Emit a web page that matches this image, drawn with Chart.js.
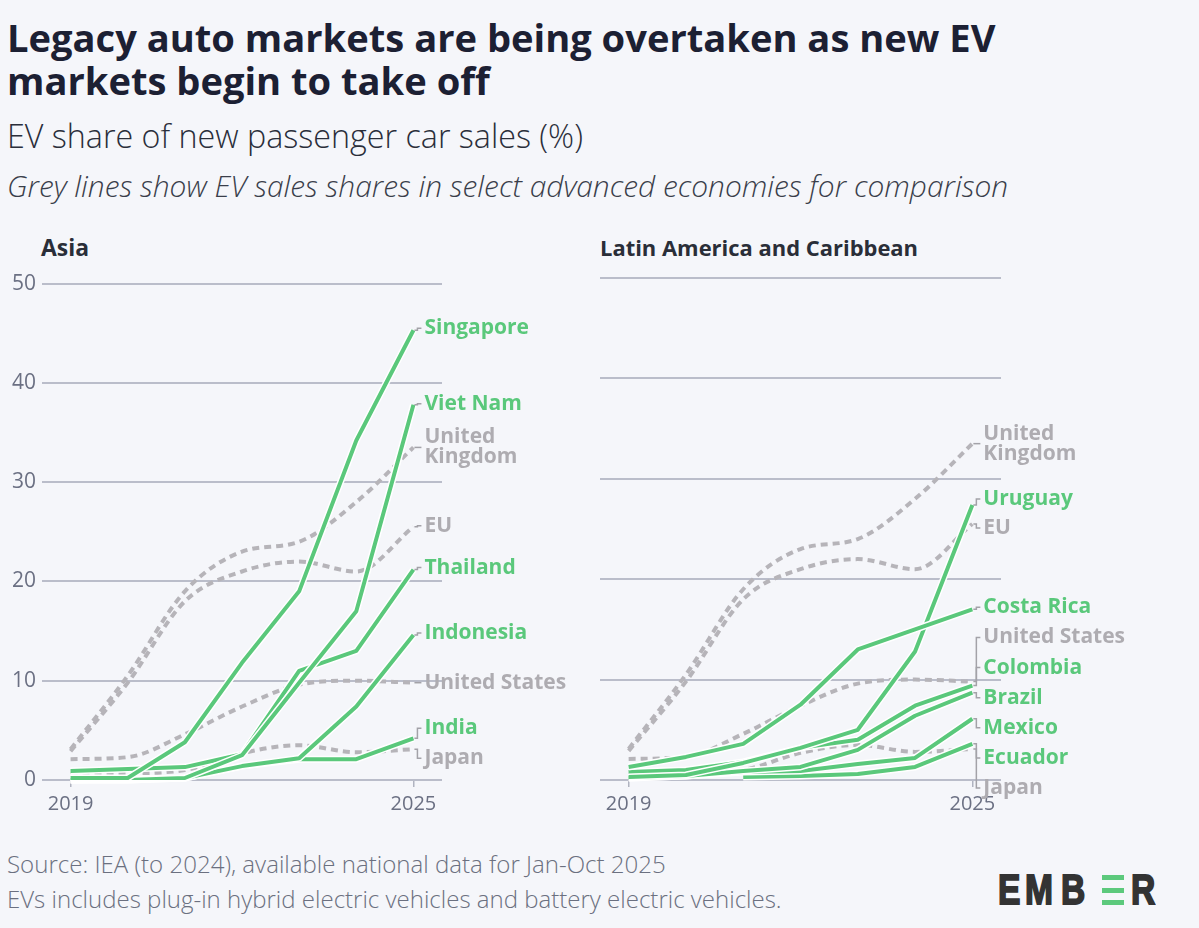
<!DOCTYPE html>
<html><head><meta charset="utf-8">
<script src="https://cdn.jsdelivr.net/npm/chart.js@4.4.1/dist/chart.umd.min.js"></script>
<style>
html,body{margin:0;padding:0;background:#f5f6fa;}
body{width:1199px;height:928px;position:relative;overflow:hidden;font-family:"Open Sans",sans-serif;}
.t{position:absolute;white-space:nowrap;left:7px;display:inline-block;}
#title1,#title2{font-weight:700;color:#1c2033;font-size:34px;line-height:40px;}
#title1{top:17px;} #title2{top:60px;}
#sub{top:118px;font-weight:300;color:#2a2e3a;font-size:26px;line-height:36px;}
#note{top:168px;font-weight:300;font-style:italic;color:#3a3e4a;font-size:23px;line-height:36px;}
.panel{position:absolute;top:236px;font-weight:700;font-size:18px;color:#2a2e38;line-height:24px;}
#foot1{top:851px;font-weight:300;color:#6b7080;font-size:18px;line-height:26px;}
#foot2{top:886px;font-weight:300;color:#6b7080;font-size:18px;line-height:26px;}
.cwrap{position:absolute;top:265px;height:565px;}
#logo span{position:absolute;font-family:"Liberation Sans",Arial,sans-serif;font-weight:bold;font-size:42px;line-height:42px;color:#333333;top:869px;transform:scaleX(0.8);transform-origin:0 0;-webkit-text-stroke:1.8px #333333;}
#logo i{position:absolute;left:1102px;width:22px;height:5px;background:#5cc97c;}
</style></head>
<body>
<div class="t" id="title1">Legacy auto markets are being overtaken as new EV</div>
<div class="t" id="title2">markets begin to take off</div>
<div class="t" id="sub">EV share of new passenger car sales (%)</div>
<div class="t" id="note">Grey lines show EV sales shares in select advanced economies for comparison</div>
<div class="panel" style="left:41px" id="p1">Asia</div>
<div class="panel" style="left:600px" id="p2">Latin America and Caribbean</div>
<div class="cwrap" style="left:0;width:590px"><canvas id="c1"></canvas></div>
<div class="cwrap" style="left:590px;width:609px"><canvas id="c2"></canvas></div>
<div class="t" id="foot1">Source: IEA (to 2024), available national data for Jan-Oct 2025</div>
<div class="t" id="foot2">EVs includes plug-in hybrid electric vehicles and battery electric vehicles.</div>
<div id="logo">
<span style="left:998px">E</span><span style="left:1025px">M</span><span style="left:1061px">B</span>
<i style="top:875px"></i><i style="top:888px"></i><i style="top:900px"></i>
<span style="left:1131px">R</span>
</div>
<script>
// ---------- data ----------
const years = [2019, 2020, 2021, 2022, 2023, 2024, 2025];
const xTickYears = [2019, 2025];
const yTicks = [0, 10, 20, 30, 40, 50];

// Asia
const singapore = [0.2, 0.2, 3.8, 11.8, 19.0, 34.2, 45.3];
const vietNam   = [0.0, 0.0, 0.2, 2.5, 9.8, 17.0, 37.8];
const thailand  = [0.9, 1.1, 1.3, 2.6, 11.0, 13.0, 21.2];
const indonesia = [0.0, 0.0, 0.2, 1.4, 2.2, 7.4, 14.6];
const india     = [0.0, 0.1, 0.2, 1.4, 2.1, 2.1, 4.2];

// Latin America and Caribbean
const costaRica = [1.3, 2.3, 3.6, 7.5, 13.0, 15.0, 17.0];
const uruguay   = [0.3, 0.5, 1.7, 3.2, 5.0, 12.8, 27.4];
const colombia  = [0.8, 1.0, 1.8, 3.2, 4.0, 7.4, 9.4];
const brazil    = [0.2, 0.4, 0.9, 1.3, 3.0, 6.4, 8.7];
const mexico    = [0.2, 0.4, 0.8, 0.9, 1.6, 2.2, 6.1];
const ecuador   = [null, null, 0.3, 0.4, 0.6, 1.3, 3.6];

// Advanced economies (grey comparison lines)
const unitedKingdom = [3.1, 10.5, 19.0, 23.0, 24.0, 28.0, 33.5];
const eu            = [2.9, 9.8, 18.0, 21.0, 22.0, 21.0, 25.5];
const unitedStates  = [2.1, 2.3, 4.6, 7.4, 9.6, 10.0, 9.8];
const japan         = [0.8, 0.7, 1.0, 2.7, 3.5, 2.8, 3.1];

const asiaSeries = [['Singapore', singapore], ['Viet Nam', vietNam], ['Thailand', thailand], ['Indonesia', indonesia], ['India', india]];
const latamSeries = [['Costa Rica', costaRica], ['Uruguay', uruguay], ['Colombia', colombia], ['Brazil', brazil], ['Mexico', mexico], ['Ecuador', ecuador]];
const greySeries = [['United Kingdom', unitedKingdom], ['EU', eu], ['United States', unitedStates], ['Japan', japan]];

// ---------- layout of end labels (value-space positions, layout only) ----------
const asiaLabelAt = {'Singapore':45.5,'Viet Nam':37.9,'United Kingdom':33.5,'EU':25.6,'Thailand':21.4,'Indonesia':14.8,'United States':9.8,'India':5.2,'Japan':2.2};
const latamLabelAt = {'United Kingdom':33.5,'Uruguay':28.0,'EU':25.1,'Costa Rica':17.2,'United States':14.2,'Colombia':11.2,'Brazil':8.2,'Mexico':5.2,'Ecuador':2.2,'Japan':-0.8};

// ---------- text fitting ----------
function fit(id, target){
  const el=document.getElementById(id);
  let fs=parseFloat(getComputedStyle(el).fontSize);
  for(let k=0;k<3;k++){const w=el.getBoundingClientRect().width; fs*=target/w; el.style.fontSize=fs+'px';}
  return fs;
}
const tfs=fit('title1',988); document.getElementById('title2').style.fontSize=tfs+'px';
fit('sub',576); fit('note',1001); fit('p1',48); fit('p2',318); fit('foot1',659); fit('foot2',775);

const GREEN='#5ac87b', GREY='#b6b4b9', GREYTXT='#aeacb1', GRID='#babdca', TICK='#6b7083';

const haloPlugin={
  id:'halo',
  beforeDatasetDraw(chart,args){
    const ds=chart.data.datasets[args.index];
    if(!ds.isGreen) return;
    const ctx=chart.ctx, pts=args.meta.data;
    ctx.save(); ctx.strokeStyle='#ffffff'; ctx.lineWidth=7; ctx.lineJoin='round';
    ctx.beginPath(); let started=false;
    pts.forEach((p,i)=>{ if(ds.data[i].y==null){started=false;return;} if(!started){ctx.moveTo(p.x,p.y);started=true;} else ctx.lineTo(p.x,p.y); });
    ctx.stroke(); ctx.restore();
  }
};
const labelPlugin={
  id:'endLabels',
  afterDatasetsDraw(chart,args,opts){
    const ctx=chart.ctx, xs=chart.scales.x, ys=chart.scales.y;
    const x0=xs.getPixelForValue(years[years.length-1]);
    ctx.save();
    chart.data.datasets.forEach(ds=>{
      const last=ds.data[ds.data.length-1].y;
      const yD=ys.getPixelForValue(last), yL=ys.getPixelForValue(opts.labelAt[ds.label]);
      ctx.strokeStyle='#a3a2a8'; ctx.lineWidth=1.5; ctx.setLineDash([]);
      const cx=x0+4;
      ctx.beginPath(); ctx.moveTo(x0+1,yD); ctx.lineTo(cx,yD); ctx.lineTo(cx,yL); ctx.lineTo(cx+4,yL); ctx.stroke();
      ctx.fillStyle=ds.isGreen?GREEN:GREYTXT;
      ctx.font='700 21px "Open Sans"'; ctx.textBaseline='middle'; ctx.textAlign='left';
      const lines=ds.label==='United Kingdom'?['United','Kingdom']:[ds.label];
      lines.forEach((t,k)=>ctx.fillText(t,x0+11,yL+(k-(lines.length-1)/2)*20));
    });
    ctx.restore();
  }
};

function build(id, series, labelAt, showY, padRight, yWidth){
  const datasets=[];
  series.forEach(([name,vals])=>datasets.push({label:name,isGreen:true,data:years.map((yr,i)=>({x:yr,y:vals[i]})),
    borderColor:GREEN,borderWidth:4,pointRadius:0,tension:0,borderJoinStyle:'round',spanGaps:false}));
  greySeries.forEach(([name,vals])=>datasets.push({label:name,isGreen:false,data:years.map((yr,i)=>({x:yr,y:vals[i]})),
    borderColor:GREY,borderWidth:4,borderDash:[7,5],pointRadius:0,cubicInterpolationMode:'monotone'}));
  return new Chart(document.getElementById(id),{
    type:'line',
    data:{datasets},
    plugins:[haloPlugin,labelPlugin],
    options:{
      responsive:true,maintainAspectRatio:false,animation:false,
      layout:{padding:{top:13,right:padRight,bottom:0,left:0}},
      plugins:{legend:{display:false},tooltip:{enabled:false},endLabels:{labelAt}},
      scales:{
        x:{type:'linear',min:2018.5,max:2025.5,
          afterBuildTicks:s=>{s.ticks=xTickYears.map(v=>({value:v}));},
          afterFit:s=>{s.height=50;},
          ticks:{callback:v=>String(v),color:TICK,font:{family:'Open Sans',size:20,weight:'400'},padding:5,maxRotation:0,autoSkip:false},
          grid:{display:true,drawOnChartArea:false,drawTicks:true,tickLength:7,color:'#b0b3c0',lineWidth:1.5},
          border:{display:false}},
        y:{min:0,max:50,
          afterBuildTicks:s=>{s.ticks=yTicks.map(v=>({value:v}));},
          afterFit:s=>{s.width=yWidth;},
          ticks:{display:showY,color:TICK,font:{family:'Open Sans',size:21,weight:'400'},padding:6},
          grid:{color:GRID,lineWidth:2,drawTicks:false},
          border:{display:false}}
      }
    }
  });
}
build('c1',asiaSeries,asiaLabelAt,true,148,42);
build('c2',latamSeries,latamLabelAt,false,198,10);
</script>
</body></html>
